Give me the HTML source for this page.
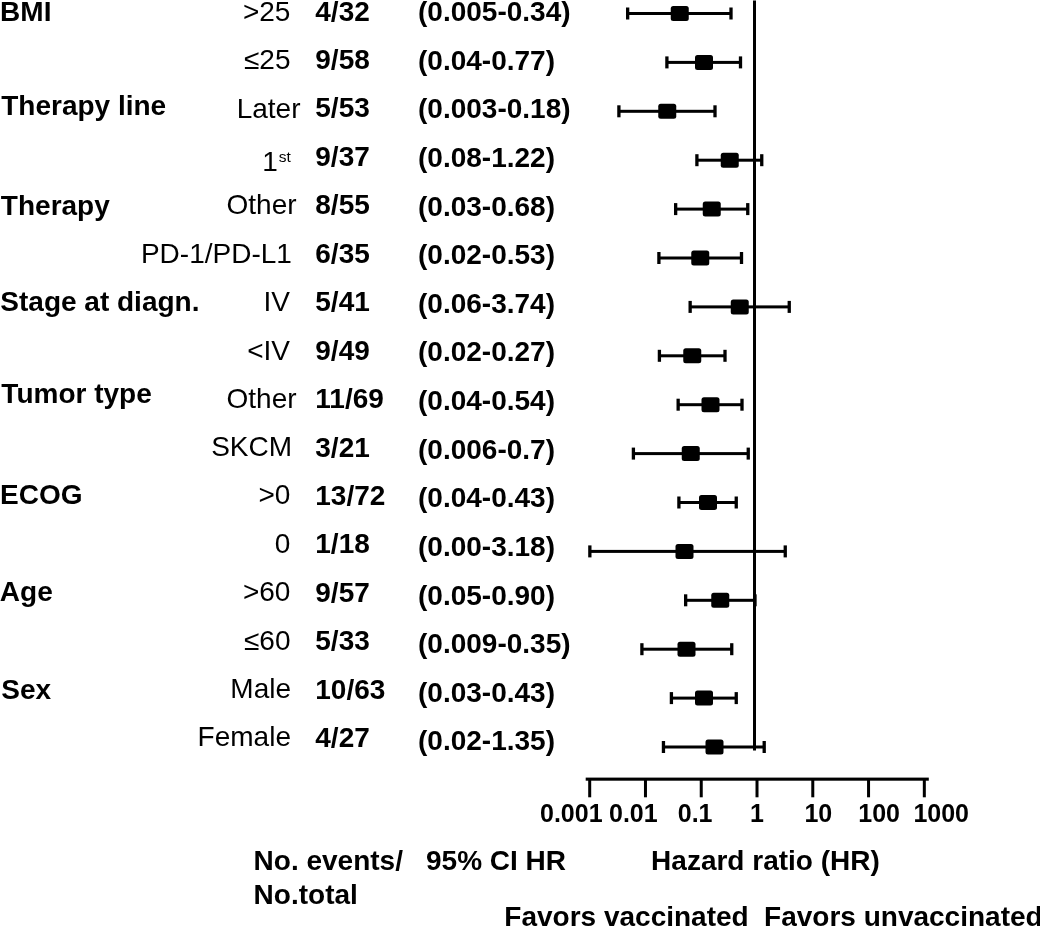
<!DOCTYPE html>
<html><head><meta charset="utf-8"><title>Forest plot</title>
<style>
html,body{margin:0;padding:0;background:#fff;}
body{width:1040px;height:927px;position:relative;overflow:hidden;}
svg{position:absolute;left:0;top:0;display:block;}
text{font-family:"Liberation Sans",Arial,Helvetica,sans-serif;font-size:28px;fill:#000;white-space:pre;}
.b{font-weight:bold;}
.k{font-size:25px;}
.sup{font-size:15.5px;}
</style></head><body>
<svg width="1040" height="927" viewBox="0 0 1040 927">
<g fill="#000" stroke="none">
<rect x="627.50" y="12.00" width="103.50" height="3"/>
<rect x="626.00" y="7.50" width="3.3" height="12"/>
<rect x="729.35" y="7.50" width="3.3" height="12"/>
<rect x="670.75" y="6.00" width="18" height="15" rx="2.5" ry="2.5"/>
<rect x="666.75" y="60.90" width="73.75" height="3"/>
<rect x="665.25" y="56.40" width="3.3" height="12"/>
<rect x="738.85" y="56.40" width="3.3" height="12"/>
<rect x="695.00" y="54.90" width="18" height="15" rx="2.5" ry="2.5"/>
<rect x="618.75" y="109.80" width="96.25" height="3"/>
<rect x="617.25" y="105.30" width="3.3" height="12"/>
<rect x="713.35" y="105.30" width="3.3" height="12"/>
<rect x="658.25" y="103.80" width="18" height="15" rx="2.5" ry="2.5"/>
<rect x="696.75" y="158.70" width="65.00" height="3"/>
<rect x="695.25" y="154.20" width="3.3" height="12"/>
<rect x="760.10" y="154.20" width="3.3" height="12"/>
<rect x="720.75" y="152.70" width="18" height="15" rx="2.5" ry="2.5"/>
<rect x="675.50" y="207.60" width="72.25" height="3"/>
<rect x="674.00" y="203.10" width="3.3" height="12"/>
<rect x="746.10" y="203.10" width="3.3" height="12"/>
<rect x="702.75" y="201.60" width="18" height="15" rx="2.5" ry="2.5"/>
<rect x="658.75" y="256.50" width="82.75" height="3"/>
<rect x="657.25" y="252.00" width="3.3" height="12"/>
<rect x="739.85" y="252.00" width="3.3" height="12"/>
<rect x="691.25" y="250.50" width="18" height="15" rx="2.5" ry="2.5"/>
<rect x="690.00" y="305.40" width="99.25" height="3"/>
<rect x="688.50" y="300.90" width="3.3" height="12"/>
<rect x="787.60" y="300.90" width="3.3" height="12"/>
<rect x="730.75" y="299.40" width="18" height="15" rx="2.5" ry="2.5"/>
<rect x="659.25" y="354.30" width="65.75" height="3"/>
<rect x="657.75" y="349.80" width="3.3" height="12"/>
<rect x="723.35" y="349.80" width="3.3" height="12"/>
<rect x="683.25" y="348.30" width="18" height="15" rx="2.5" ry="2.5"/>
<rect x="678.00" y="403.20" width="64.00" height="3"/>
<rect x="676.50" y="398.70" width="3.3" height="12"/>
<rect x="740.35" y="398.70" width="3.3" height="12"/>
<rect x="701.50" y="397.20" width="18" height="15" rx="2.5" ry="2.5"/>
<rect x="633.25" y="452.10" width="115.00" height="3"/>
<rect x="631.75" y="447.60" width="3.3" height="12"/>
<rect x="746.60" y="447.60" width="3.3" height="12"/>
<rect x="681.75" y="446.10" width="18" height="15" rx="2.5" ry="2.5"/>
<rect x="678.75" y="501.00" width="57.50" height="3"/>
<rect x="677.25" y="496.50" width="3.3" height="12"/>
<rect x="734.60" y="496.50" width="3.3" height="12"/>
<rect x="699.00" y="495.00" width="18" height="15" rx="2.5" ry="2.5"/>
<rect x="589.70" y="549.90" width="195.55" height="3"/>
<rect x="588.20" y="545.40" width="3.3" height="12"/>
<rect x="783.60" y="545.40" width="3.3" height="12"/>
<rect x="675.50" y="543.90" width="18" height="15" rx="2.5" ry="2.5"/>
<rect x="685.50" y="598.80" width="69.50" height="3"/>
<rect x="684.00" y="594.30" width="3.3" height="12"/>
<rect x="753.35" y="594.30" width="3.3" height="12"/>
<rect x="711.25" y="592.80" width="18" height="15" rx="2.5" ry="2.5"/>
<rect x="641.75" y="647.70" width="90.00" height="3"/>
<rect x="640.25" y="643.20" width="3.3" height="12"/>
<rect x="730.10" y="643.20" width="3.3" height="12"/>
<rect x="677.50" y="641.70" width="18" height="15" rx="2.5" ry="2.5"/>
<rect x="671.25" y="696.60" width="65.00" height="3"/>
<rect x="669.75" y="692.10" width="3.3" height="12"/>
<rect x="734.60" y="692.10" width="3.3" height="12"/>
<rect x="695.00" y="690.60" width="18" height="15" rx="2.5" ry="2.5"/>
<rect x="663.30" y="745.50" width="100.90" height="3"/>
<rect x="661.80" y="741.00" width="3.3" height="12"/>
<rect x="762.55" y="741.00" width="3.3" height="12"/>
<rect x="705.50" y="739.50" width="18" height="15" rx="2.5" ry="2.5"/>
<rect x="753" y="0.5" width="3" height="750"/>
<rect x="585.7" y="777.6" width="343.10" height="3.1"/>
<rect x="588.20" y="779" width="3" height="18.3"/>
<rect x="643.97" y="779" width="3" height="18.3"/>
<rect x="699.74" y="779" width="3" height="18.3"/>
<rect x="755.51" y="779" width="3" height="18.3"/>
<rect x="811.28" y="779" width="3" height="18.3"/>
<rect x="867.05" y="779" width="3" height="18.3"/>
<rect x="922.82" y="779" width="3" height="18.3"/>
</g>
<g>
<text class="b" x="0.10" y="21.00">BMI</text>
<text x="242.93" y="20.50">&gt;25</text>
<text class="b" x="315.30" y="20.50">4/32</text>
<text class="b" x="418.00" y="21.10">(0.005-0.34)</text>
<text x="243.94" y="68.75">≤25</text>
<text class="b" x="315.30" y="68.95">9/58</text>
<text class="b" x="418.00" y="69.72">(0.04-0.77)</text>
<text class="b" x="1.26" y="115.00">Therapy line</text>
<text x="236.66" y="117.50">Later</text>
<text class="b" x="315.30" y="117.40">5/53</text>
<text class="b" x="418.00" y="118.34">(0.003-0.18)</text>
<text x="262.13" y="170.50">1<tspan class="sup" dx="1.1" dy="-9">st</tspan></text>
<text class="b" x="315.30" y="165.85">9/37</text>
<text class="b" x="418.00" y="166.96">(0.08-1.22)</text>
<text class="b" x="0.86" y="215.00">Therapy</text>
<text x="226.50" y="214.25">Other</text>
<text class="b" x="315.30" y="214.30">8/55</text>
<text class="b" x="418.00" y="215.58">(0.03-0.68)</text>
<text x="140.92" y="262.50">PD-1/PD-L1</text>
<text class="b" x="315.30" y="262.75">6/35</text>
<text class="b" x="418.00" y="264.20">(0.02-0.53)</text>
<text class="b" x="0.32" y="311.25">Stage at diagn.</text>
<text x="263.59" y="310.75">IV</text>
<text class="b" x="315.30" y="311.20">5/41</text>
<text class="b" x="418.00" y="312.82">(0.06-3.74)</text>
<text x="247.24" y="359.50">&lt;IV</text>
<text class="b" x="315.30" y="359.65">9/49</text>
<text class="b" x="418.00" y="361.44">(0.02-0.27)</text>
<text class="b" x="1.36" y="402.60">Tumor type</text>
<text x="226.50" y="407.50">Other</text>
<text class="b" x="315.30" y="408.10">11/69</text>
<text class="b" x="418.00" y="410.06">(0.04-0.54)</text>
<text x="211.18" y="455.75">SKCM</text>
<text class="b" x="315.30" y="456.55">3/21</text>
<text class="b" x="418.00" y="458.68">(0.006-0.7)</text>
<text class="b" x="0.10" y="503.75">ECOG</text>
<text x="258.50" y="504.25">&gt;0</text>
<text class="b" x="315.30" y="505.00">13/72</text>
<text class="b" x="418.00" y="507.30">(0.04-0.43)</text>
<text x="274.85" y="553.00">0</text>
<text class="b" x="315.30" y="553.45">1/18</text>
<text class="b" x="418.00" y="555.92">(0.00-3.18)</text>
<text class="b" x="-0.17" y="600.75">Age</text>
<text x="242.93" y="601.25">&gt;60</text>
<text class="b" x="315.30" y="601.90">9/57</text>
<text class="b" x="418.00" y="604.54">(0.05-0.90)</text>
<text x="243.94" y="649.50">≤60</text>
<text class="b" x="315.30" y="650.35">5/33</text>
<text class="b" x="418.00" y="653.16">(0.009-0.35)</text>
<text class="b" x="1.22" y="699.25">Sex</text>
<text x="230.33" y="698.00">Male</text>
<text class="b" x="315.30" y="698.80">10/63</text>
<text class="b" x="418.00" y="701.78">(0.03-0.43)</text>
<text x="197.62" y="746.25">Female</text>
<text class="b" x="315.30" y="747.25">4/27</text>
<text class="b" x="418.00" y="750.40">(0.02-1.35)</text>
<text class="b k" x="540.00" y="822.30">0.001</text>
<text class="b k" x="609.00" y="822.30">0.01</text>
<text class="b k" x="677.75" y="822.30">0.1</text>
<text class="b k" x="750.00" y="822.30">1</text>
<text class="b k" x="804.45" y="822.30">10</text>
<text class="b k" x="858.30" y="822.30">100</text>
<text class="b k" x="913.40" y="822.30">1000</text>
<text class="b" x="253.60" y="869.50">No. events/</text>
<text class="b" x="253.60" y="903.75">No.total</text>
<text class="b" x="425.99" y="869.50">95% CI HR</text>
<text class="b" x="651.10" y="869.50">Hazard ratio (HR)</text>
<text class="b" x="504.35" y="926.25">Favors vaccinated</text>
<text class="b" x="764.10" y="926.25">Favors unvaccinated</text>
</g>
</svg>
</body></html>
